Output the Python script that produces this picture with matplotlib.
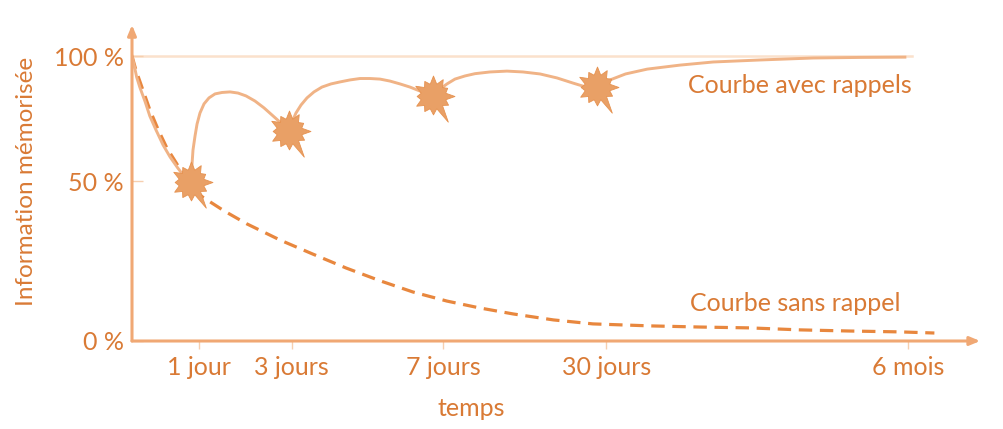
import numpy as np
import matplotlib
matplotlib.use("Agg")
import matplotlib.pyplot as plt
from matplotlib.path import Path

# axes on a schematic scale: x = 0..100 up to "6 mois", y = percent
tick_pos = [8.6, 20.6, 40.1, 61.1, 100]
tick_lab = ["1 jour", "3 jours", "7 jours", "30 jours", "6 mois"]
ytick_pos = [0, 56.1, 100]
ytick_lab = ["0 %", "50 %", "100 %"]

# curve with reminders
avec_x = [0.0, 0.3, 0.6, 1.0, 1.7, 2.3, 3.1, 4.0, 4.9, 5.9, 6.8, 7.5,
          7.60, 7.73, 7.86, 8.12, 8.38, 8.76, 9.28, 9.92, 10.70, 11.60, 12.63, 13.66,
          14.69, 15.85, 17.01, 18.04, 19.07, 20.23,
          20.62, 21.13, 21.78, 22.55, 23.45, 24.48, 25.64, 26.80, 28.09, 29.38, 30.67,
          31.96, 33.25, 34.54, 35.82, 37.11, 38.79,
          39.69, 40.59, 41.62, 42.91, 44.20, 46.13, 48.32, 50.39, 52.58, 54.77, 56.83,
          58.51, 59.92,
          60.1, 61.6, 63.6, 66.4, 70.6, 74.9, 80.9, 87.8, 93.8, 99.6]
avec_y = [100.0, 96.5, 92.6, 89.1, 83.9, 78.9, 74.0, 68.8, 64.6, 60.7, 57.5, 55.4,
          56.5, 61.8, 67.0, 71.9, 76.1, 80.0, 83.2, 85.3, 86.7, 87.2, 87.4, 87.0,
          86.0, 84.2, 81.8, 79.3, 76.8, 73.7,
          76.8, 80.0, 82.8, 85.3, 87.4, 89.1, 90.2, 90.9, 91.6, 92.1, 92.1,
          91.9, 91.2, 90.2, 89.1, 87.7, 85.6,
          88.4, 90.2, 91.9, 93.0, 93.8, 94.4, 94.7, 94.4, 93.7, 92.3, 90.5,
          89.1, 88.4,
          89.1, 91.6, 93.7, 95.4, 96.8, 97.9, 98.6, 99.3, 99.5, 99.6]

# curve without reminder
sans_x = [0.0, 0.5, 1.4, 2.3, 3.4, 4.5, 5.7, 6.8, 7.7, 9.1, 11.9, 14.8, 19.1, 23.3,
          27.6, 32.0, 36.2, 40.6, 44.8, 49.1, 54.3, 59.4, 66.8, 73.2, 79.6, 86.1, 92.5,
          98.9, 103.4]
sans_y = [100.0, 95.1, 88.1, 81.1, 74.0, 67.7, 62.5, 57.5, 54.0, 50.5, 45.6, 41.1,
          35.4, 30.5, 25.6, 21.1, 17.2, 14.0, 11.6, 9.5, 7.4, 6.0, 5.3, 4.9, 4.6, 3.9,
          3.5, 3.2, 2.8]

# reminder stars
star_x = [7.6, 20.2, 38.8, 59.9]
star_y = [55.8, 73.7, 86.0, 89.1]

txt_col = "#D97A35"
axis_col = "#F0A874"
solid_col = "#F0B386"
dash_col = "#E8873E"
ref_col = "#FBE1CC"

plt.rcParams["font.family"] = ["Lato", "DejaVu Sans"]

fig = plt.figure(figsize=(10.04, 4.29), dpi=100)
# axes placed so that x=0 / y=0 sits on the drawn origin
ax = fig.add_axes([132 / 1004, 88 / 429, 112 * 7.76 / 1004, 119 * 2.85 / 429])
ax.set_xlim(0, 112)
ax.set_ylim(0, 119)
for s in ax.spines.values():
    s.set_visible(False)

# irregular burst marker
ang = np.linspace(0, 2 * np.pi, 25)[:-1] + np.pi / 2
rad = np.array([1.0, .62, .85, .62, 1.0, .62, .8, .62, .95, .62, .85, .62,
                .9, .62, 1.45, .62, .85, .62, 1.05, .62, .8, .62, .95, .62])
verts = np.column_stack([rad * np.cos(ang), rad * np.sin(ang)])
verts = np.vstack([verts, verts[:1]])
burst = Path(verts, closed=True)

ax.plot([0, 100.5], [100, 100], color=ref_col, lw=1.8, zorder=1)
ax.plot(sans_x, sans_y, color=dash_col, lw=2.3, dashes=(4.2, 2.4), zorder=2)
ax.plot(avec_x, avec_y, color=solid_col, lw=2.1, zorder=3, solid_joinstyle="round")
ax.plot(star_x, star_y, ls="none", marker=burst, ms=37, mfc="#E9A066",
        mec="#E69250", mew=0.6, zorder=4)

# axes with arrows
ax.annotate("", xy=(109.3, 0), xytext=(0, 0),
            arrowprops=dict(arrowstyle="-|>,head_length=0.6,head_width=0.25",
                            color=axis_col, lw=2.2, shrinkA=0, shrinkB=0))
ax.annotate("", xy=(0, 110.9), xytext=(0, 0),
            arrowprops=dict(arrowstyle="-|>,head_length=0.6,head_width=0.25",
                            color=axis_col, lw=2.2, shrinkA=0, shrinkB=0))

ax.set_xticks(tick_pos)
ax.set_xticklabels(tick_lab)
ax.set_yticks(ytick_pos)
ax.set_yticklabels(ytick_lab)
ax.tick_params(axis="x", direction="out", length=6, width=1, color="#F6CFAF",
               labelsize=18, labelcolor=txt_col, pad=5)
ax.tick_params(axis="y", direction="in", length=8, width=1, color="#F6CFAF",
               labelsize=18, labelcolor=txt_col, pad=6)

ax.text(71.6, 89.5, "Courbe avec rappels", color=txt_col, fontsize=18,
        ha="left", va="center")
ax.text(71.9, 13.3, "Courbe sans rappel", color=txt_col, fontsize=18,
        ha="left", va="center")
fig.text(471 / 1004, 1 - 408 / 429, "temps", color=txt_col, fontsize=18,
         ha="center", va="center")
fig.text(27 / 1004, 1 - 181 / 429, "Information mémorisée", color=txt_col,
         fontsize=17.5, ha="center", va="center", rotation=90)

fig.savefig("out.png", dpi=100)
